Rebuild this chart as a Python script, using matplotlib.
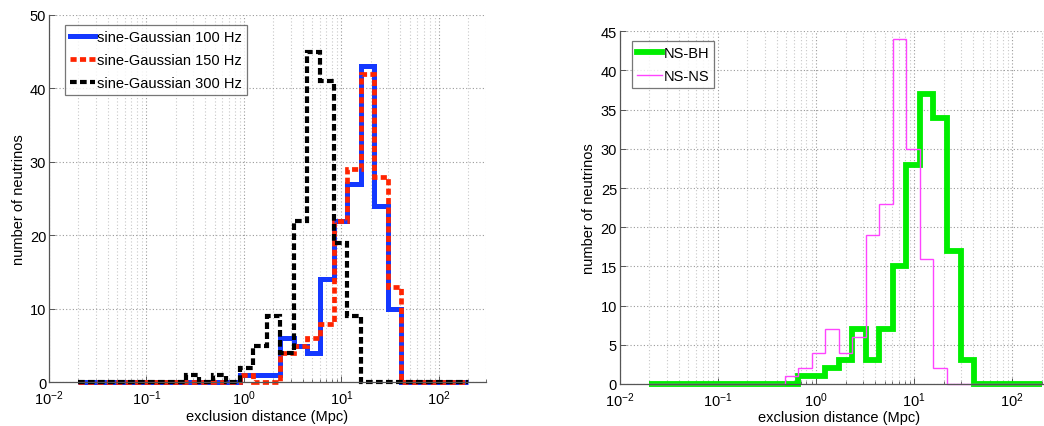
import numpy as np
import matplotlib
matplotlib.use("Agg")
import matplotlib.pyplot as plt
from matplotlib.ticker import LogLocator, FixedLocator, NullFormatter, FuncFormatter

plt.rcParams['font.family'] = ['Liberation Sans', 'DejaVu Sans']
plt.rcParams['mathtext.fontset'] = 'custom'
plt.rcParams['mathtext.rm'] = 'Liberation Sans'
plt.rcParams['mathtext.it'] = 'Liberation Sans:italic'
plt.rcParams['mathtext.bf'] = 'Liberation Sans:bold'

# ---- data: 29 log-spaced bins from 0.02 to 200 Mpc ----
bin_lo, bin_hi, n_bins = 0.02, 200.0, 29
edges = np.logspace(np.log10(bin_lo), np.log10(bin_hi), n_bins + 1)

sg100 = [0, 0, 0, 0, 0, 0, 0, 0, 0, 0, 0, 0, 1, 1, 1, 6, 5, 4, 14, 22, 27, 43, 24, 10, 0, 0, 0, 0, 0]
sg150 = [0, 0, 0, 0, 0, 0, 0, 0, 0, 0, 0, 0, 1, 0, 0, 4, 5, 6, 8, 22, 29, 42, 28, 13, 0, 0, 0, 0, 0]
sg300 = [0, 0, 0, 0, 0, 0, 0, 0, 1, 0, 1, 0, 2, 5, 9, 4, 22, 45, 41, 19, 9, 0, 0, 0, 0, 0, 0, 0, 0]

nsbh = [0, 0, 0, 0, 0, 0, 0, 0, 0, 0, 0, 1, 1, 2, 3, 7, 3, 7, 15, 28, 37, 34, 17, 3, 0, 0, 0, 0, 0]
nsns = [0, 0, 0, 0, 0, 0, 0, 0, 0, 0, 1, 2, 4, 7, 4, 6, 19, 23, 44, 30, 16, 2, 0, 0, 0, 0, 0, 0, 0]

left_labels = ['sine-Gaussian 100 Hz', 'sine-Gaussian 150 Hz', 'sine-Gaussian 300 Hz']
right_labels = ['NS-BH', 'NS-NS']
xlabel = 'exclusion distance (Mpc)'
ylabel = 'number of neutrinos'

W, H = 1044, 427
fig = plt.figure(figsize=(W / 100, H / 100), dpi=100)

axL = fig.add_axes([49 / W, (H - 383.3) / H, 436.5 / W, 367.5 / H])
axR = fig.add_axes([619.8 / W, (H - 385) / H, 439.2 / W, 352.7 / H])


def sci(x, pos):
    e = int(round(np.log10(x)))
    return r'$\mathregular{10^{%d}}$' % e


def style(ax, ymax, ystep):
    ax.set_xscale('log')
    ax.set_xlim(0.01, 300)
    ax.set_ylim(0, ymax)
    ax.set_yticks(np.arange(0, ymax + 0.1, ystep))
    ax.xaxis.set_major_locator(FixedLocator([1e-2, 1e-1, 1e0, 1e1, 1e2]))
    ax.xaxis.set_minor_locator(LogLocator(base=10, subs=np.arange(2, 10), numticks=20))
    ax.xaxis.set_major_formatter(FuncFormatter(sci))
    ax.xaxis.set_minor_formatter(NullFormatter())
    for s in ['top', 'right']:
        ax.spines[s].set_visible(False)
    for s in ['left', 'bottom']:
        ax.spines[s].set_color('#555555')
        ax.spines[s].set_linewidth(0.9)
    ax.tick_params(which='major', direction='in', length=4, width=0.7, color='#555555',
                   labelsize=10.5)
    ax.tick_params(axis='x', which='major', pad=4.5)
    ax.tick_params(axis='y', which='major', pad=2)
    ax.tick_params(which='minor', direction='in', length=2, width=0.6, color='#555555')
    ax.grid(True, which='major', axis='both', color='#9a9a9a', linestyle=(0, (1, 2)), linewidth=0.8)
    ax.grid(True, which='minor', axis='x', color='#c8c8c8', linestyle=(0, (1, 2)), linewidth=0.8)
    ax.set_axisbelow(True)
    ax.set_xlabel(xlabel, fontsize=10.5, labelpad=1)
    ax.set_ylabel(ylabel, fontsize=10.5, labelpad=3)


style(axL, 50, 10)
style(axR, 45, 5)

# left panel
axL.stairs(sg100, edges, baseline=None, color='#1438ff', lw=3.6, clip_on=False,
           label=left_labels[0])
axL.stairs(sg150, edges, baseline=None, color='#ff2400', lw=3.4, clip_on=False,
           linestyle=(0, (1.3, 0.7)), label=left_labels[1])
axL.stairs(sg300, edges, baseline=None, color='black', lw=3.0, clip_on=False,
           linestyle=(0, (1.6, 0.8)), label=left_labels[2])

legL = axL.legend(loc='upper left', bbox_to_anchor=(65 / W, 1 - 26 / H),
                  bbox_transform=fig.transFigure, fontsize=10.5, frameon=True, fancybox=False,
                  borderaxespad=0, handlelength=1.7, handletextpad=0.12, labelspacing=0.6,
                  borderpad=0.35)
legL.get_frame().set_edgecolor('#555555')
legL.get_frame().set_linewidth(0.9)

# right panel
axR.stairs(nsbh, edges, baseline=None, color='#00ee00', lw=4.2, clip_on=False,
           label=right_labels[0])
axR.stairs(nsns, edges, baseline=None, color='#ff44ff', lw=1.0, clip_on=False,
           label=right_labels[1])

legR = axR.legend(loc='upper left', bbox_to_anchor=(632 / W, 1 - 42 / H),
                  bbox_transform=fig.transFigure, fontsize=10.5, frameon=True, fancybox=False,
                  borderaxespad=0, handlelength=1.7, handletextpad=0.12, labelspacing=0.6,
                  borderpad=0.35)
legR.get_frame().set_edgecolor('#555555')
legR.get_frame().set_linewidth(0.9)

fig.savefig('out.png', dpi=100)
